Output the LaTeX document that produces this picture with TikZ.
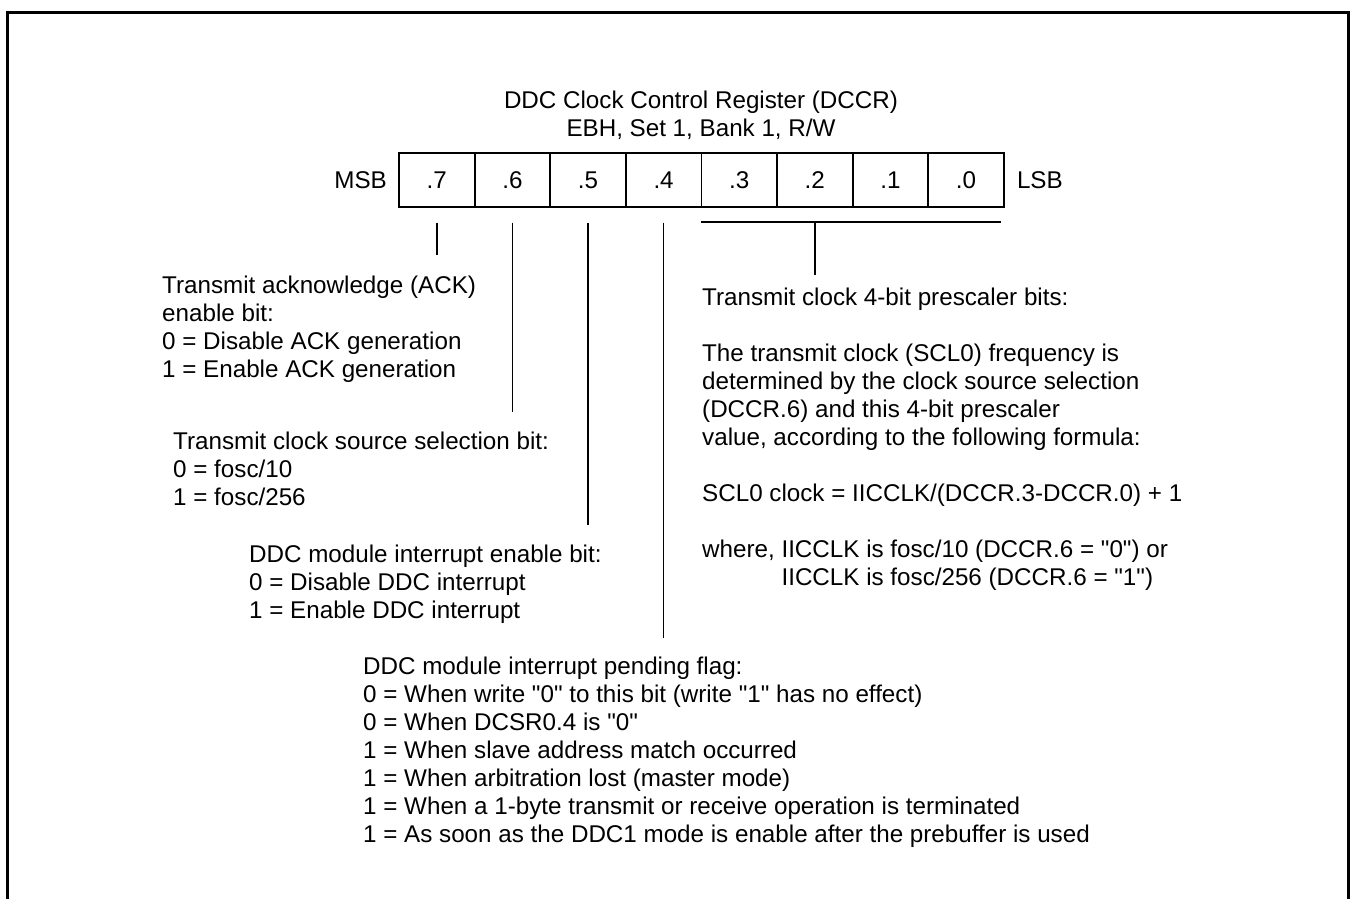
\documentclass[tikz,border=0pt]{standalone}
\usepackage{fontspec}
\setmainfont{Liberation Sans}
\usetikzlibrary{positioning}
\newcommand{\qtd}[1]{\textquotedbl#1\textquotedbl}
\tikzset{
  regfont/.style={font=\fontsize{24.2}{28}\selectfont},
  outerframe/.style={line width=3pt},
  regcell/.style={draw, line width=1.8pt, minimum width=75.6pt,
    minimum height=54pt, inner sep=0pt, outer sep=0pt, regfont},
  sidelabel/.style={regfont, inner sep=0pt},
  regtitle/.style={regfont, align=center, anchor=north, inner sep=0pt},
  desc/.style={regfont, align=left, anchor=north west, inner sep=0pt},
  leader/.style={line width=1.5pt},
}

\begin{document}
\begin{tikzpicture}[x=1pt, y=-1pt]

  \useasboundingbox (0,0) rectangle (1352,898);

  % ----------------------------------------------------------------
  % Outer frame (open at the bottom)
  % ----------------------------------------------------------------
  \draw[outerframe] (7,910) -- (7,12) -- (1348,12) -- (1348,910);

  % ----------------------------------------------------------------
  % Register title and bit cells
  % ----------------------------------------------------------------
  \node[regcell] (b7) at (436.8,180) {.7};
  \node[regcell, right=0pt of b7] (b6) {.6};
  \node[regcell, right=0pt of b6] (b5) {.5};
  \node[regcell, right=0pt of b5] (b4) {.4};
  \node[regcell, right=0pt of b4] (b3) {.3};
  \node[regcell, right=0pt of b3] (b2) {.2};
  \node[regcell, right=0pt of b2] (b1) {.1};
  \node[regcell, right=0pt of b1] (b0) {.0};

  \node[sidelabel, left=12pt of b7] (msb) {MSB};
  \node[sidelabel, right=13pt of b0] (lsb) {LSB};

  \node[regtitle] (title) at (701,91)
    {DDC Clock Control Register (DCCR)\\ EBH, Set 1, Bank 1, R/W};

  % ----------------------------------------------------------------
  % Bit descriptions
  % ----------------------------------------------------------------
  \node[desc] (ack) at (162,276)
    {Transmit acknowledge (ACK)\\ enable bit:\\
     0 = Disable ACK generation\\ 1 = Enable ACK generation};

  \node[desc] (srcsel) at (173,432)
    {Transmit clock source selection bit:\\ 0 = fosc/10\\ 1 = fosc/256};

  \node[desc] (intena) at (249,545)
    {DDC module interrupt enable bit:\\
     0 = Disable DDC interrupt\\ 1 = Enable DDC interrupt};

  \node[desc] (intpnd) at (363,657)
    {DDC module interrupt pending flag:\\
     0 = When write \qtd{0} to this bit (write \qtd{1} has no effect)\\
     0 = When DCSR0.4 is \qtd{0}\\
     1 = When slave address match occurred\\
     1 = When arbitration lost (master mode)\\
     1 = When a 1-byte transmit or receive operation is terminated\\
     1 = As soon as the DDC1 mode is enable after the prebuffer is used};

  \node[desc] (presc) at (702,288)
    {Transmit clock 4-bit prescaler bits:\\[28pt]
     The transmit clock (SCL0) frequency is\\
     determined by the clock source selection\\
     (DCCR.6) and this 4-bit prescaler\\
     value, according to the following formula:\\[28pt]
     SCL0 clock = IICCLK/(DCCR.3-DCCR.0) + 1\\[28pt]
     where, IICCLK is fosc/10 (DCCR.6 = \qtd{0}) or\\
     \phantom{where, }IICCLK is fosc/256 (DCCR.6 = \qtd{1})};

  % ----------------------------------------------------------------
  % Leader lines from the bits down to their descriptions
  % ----------------------------------------------------------------
  \draw[leader] ([yshift=-15.5pt]b7.south) -- ([yshift=21pt]b7.south |- ack.north);
  \draw[leader] ([yshift=-15.5pt]b6.south) -- ([yshift=20pt]b6.south |- srcsel.north);
  \draw[leader] ([yshift=-15.5pt]b5.south) -- ([yshift=20pt]b5.south |- intena.north);
  \draw[leader] ([yshift=-15.5pt]b4.south) -- ([yshift=19pt]b4.south |- intpnd.north);

  % bracket over bits .3 to .0
  \coordinate (brl) at ([yshift=-15pt]b3.south west);
  \coordinate (brr) at ([yshift=-15pt, xshift=-3pt]b0.south east);
  \draw[leader] (brl) -- (brr);
  \draw[leader] (brl -| b2.south) -- ([yshift=13pt]b2.south |- presc.north);

\end{tikzpicture}
\end{document}
